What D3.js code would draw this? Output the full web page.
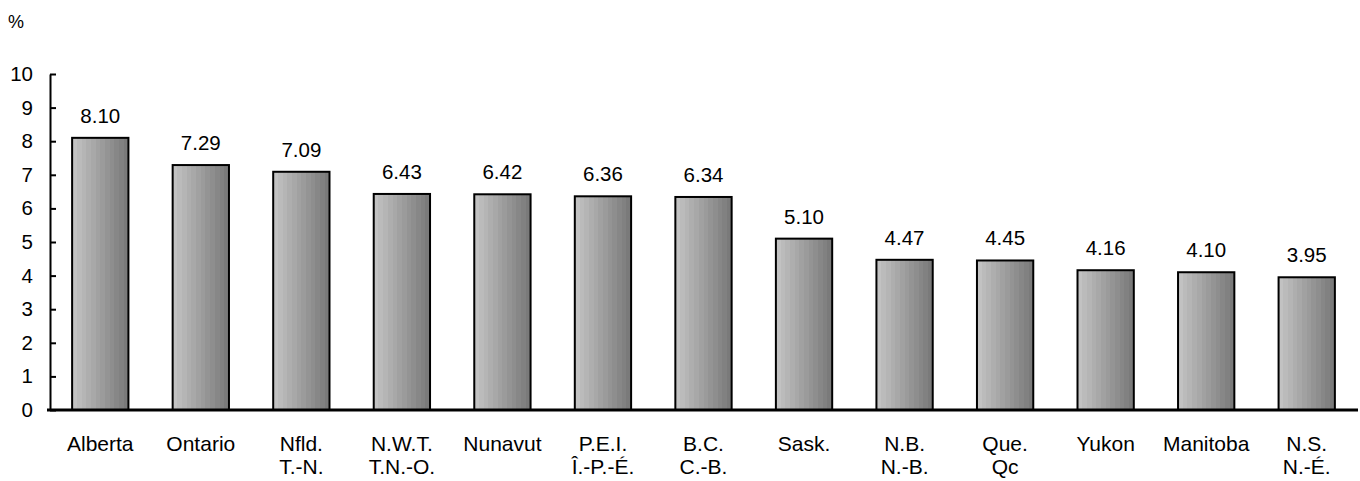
<!DOCTYPE html>
<html><head><meta charset="utf-8">
<script src="https://cdn.jsdelivr.net/npm/d3@7"></script>
<style>
html,body{margin:0;padding:0;background:#fff;}
text{font-family:"Liberation Sans",Arial,sans-serif;fill:#000;}
</style></head>
<body>
<svg id="chart" width="1360" height="481"></svg>
<script>
const categories = ["Alberta","Ontario","Nfld.\nT.-N.","N.W.T.\nT.N.-O.","Nunavut","P.E.I.\nÎ.-P.-É.","B.C.\nC.-B.","Sask.","N.B.\nN.-B.","Que.\nQc","Yukon","Manitoba","N.S.\nN.-É."];
const values = [8.10,7.29,7.09,6.43,6.42,6.36,6.34,5.10,4.47,4.45,4.16,4.10,3.95];
const valueLabels = ["8.10","7.29","7.09","6.43","6.42","6.36","6.34","5.10","4.47","4.45","4.16","4.10","3.95"];
const yTicks = [0,1,2,3,4,5,6,7,8,9,10];
const unitLabel = "%";

const svg = d3.select("#chart");
const x = d3.scaleBand().domain(categories).range([50,1357]).paddingInner(0.44).paddingOuter(0.22);
const y = d3.scaleLinear().domain([0,10]).range([410,74]);

// gradient with stepped bands
const defs = svg.append("defs");
const grad = defs.append("linearGradient").attr("id","barGrad").attr("x1","0").attr("x2","1").attr("y1","0").attr("y2","0");
const nb = 12;
const cs = d3.interpolateRgb("#c2c2c2","#7a7a7a");
for(let i=0;i<nb;i++){
  const c = cs(i/(nb-1));
  grad.append("stop").attr("offset",(i/nb)).attr("stop-color",c);
  grad.append("stop").attr("offset",((i+1)/nb)).attr("stop-color",c);
}

// unit label
svg.append("text").attr("x",8).attr("y",28).attr("font-size",18).text(unitLabel);

// y axis
const yAxis = d3.axisLeft(y).tickValues(yTicks).tickFormat(d3.format("d")).tickSizeInner(-6).tickSizeOuter(0).tickPadding(17);
const gy = svg.append("g").attr("transform","translate(50,0)").call(yAxis);
gy.select(".domain").attr("stroke","#000").attr("stroke-width",2);
gy.selectAll(".tick line").attr("stroke","#000").attr("stroke-width",2);
gy.selectAll(".tick text").attr("font-size",20.5).attr("font-family","Liberation Sans, Arial, sans-serif").attr("fill","#000");

// bars
svg.append("g").selectAll("rect").data(values).join("rect")
  .attr("x",(d,i)=>x(categories[i]))
  .attr("y",d=>y(d))
  .attr("width",x.bandwidth())
  .attr("height",d=>y(0)-y(d))
  .attr("fill","url(#barGrad)")
  .attr("stroke","#000").attr("stroke-width",2);

// value labels
svg.append("g").selectAll("text").data(values).join("text")
  .attr("x",(d,i)=>x(categories[i])+x.bandwidth()/2)
  .attr("y",d=>y(d)-15)
  .attr("text-anchor","middle").attr("font-size",20.5)
  .text((d,i)=>valueLabels[i]);

// baseline
svg.append("line").attr("x1",47).attr("x2",1358).attr("y1",y(0)).attr("y2",y(0)).attr("stroke","#000").attr("stroke-width",3);

// category labels
const cg = svg.append("g").selectAll("text").data(categories).join("text")
  .attr("x",d=>x(d)+x.bandwidth()/2)
  .attr("y",451)
  .attr("text-anchor","middle").attr("font-size",21);
cg.each(function(d){
  const t = d3.select(this);
  d.split("\n").forEach((line,j)=>{
    t.append("tspan").attr("x",x(d)+x.bandwidth()/2).attr("y",451+j*23).text(line);
  });
});
</script>
</body></html>
